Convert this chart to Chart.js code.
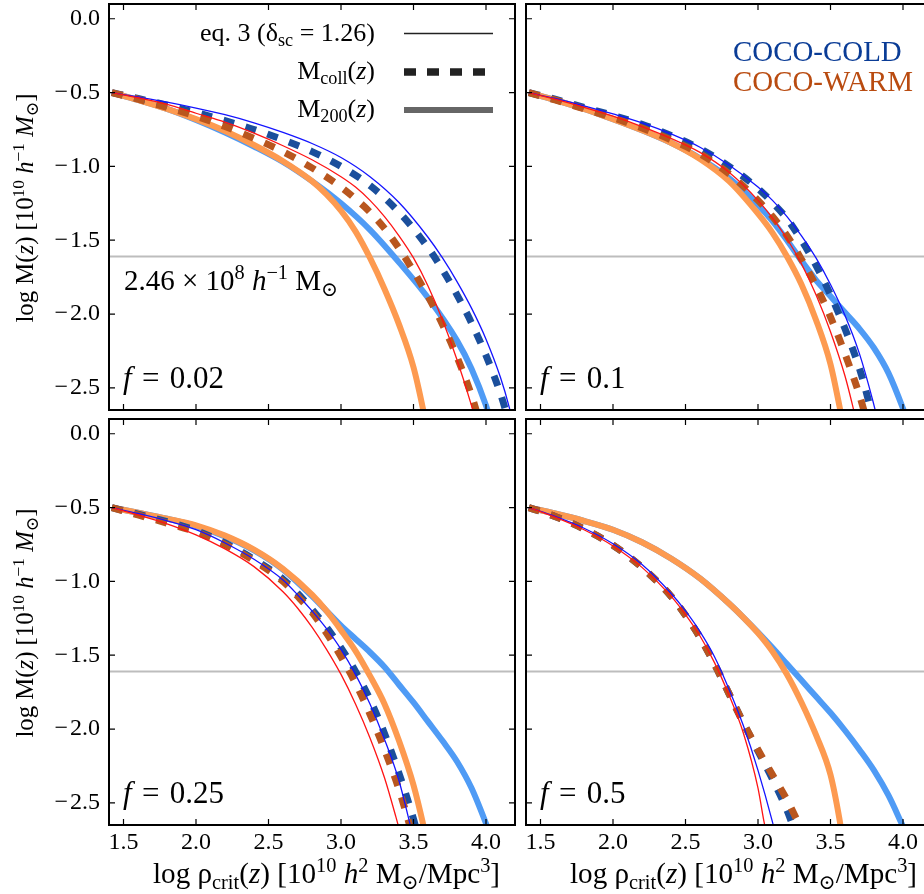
<!DOCTYPE html>
<html>
<head>
<meta charset="utf-8">
<script src="https://cdn.jsdelivr.net/npm/chart.js@4.4.1/dist/chart.umd.min.js"></script>
<style>
  html, body { margin: 0; padding: 0; background: #fff; }
  body { width: 924px; height: 894px; overflow: hidden; position: relative; }
  canvas { position: absolute; }
</style>
</head>
<body>
<canvas id="c0"></canvas>
<canvas id="c1"></canvas>
<canvas id="c2"></canvas>
<canvas id="c3"></canvas>
<script>
// axes
const xTicks = [1.5, 2.0, 2.5, 3.0, 3.5, 4.0];
const yTicks = [0.0, -0.5, -1.0, -1.5, -2.0, -2.5];
const xRange = [1.4, 4.2];
const yRange = [-2.65, 0.1];
const massLimit = -1.61; // log(2.46e8 / 1e10)

// f = 0.02
const f002_eq3Cold = [[1.42,-0.50],[1.6,-0.53],[1.8,-0.565],[2.0,-0.605],[2.2,-0.65],[2.4,-0.705],[2.6,-0.77],[2.8,-0.845],[3.0,-0.94],[3.2,-1.07],[3.4,-1.245],[3.6,-1.48],[3.7,-1.62],[3.8,-1.78],[3.9,-1.96],[4.0,-2.17],[4.1,-2.43],[4.16,-2.63],[4.2,-2.8]];
const f002_eq3Warm = [[1.42,-0.50],[1.6,-0.535],[1.8,-0.58],[2.0,-0.64],[2.2,-0.70],[2.4,-0.775],[2.6,-0.86],[2.8,-0.955],[3.0,-1.07],[3.1,-1.14],[3.2,-1.23],[3.3,-1.34],[3.4,-1.47],[3.5,-1.62],[3.6,-1.81],[3.7,-2.04],[3.8,-2.31],[3.9,-2.62],[3.95,-2.8]];
const f002_collCold = [[1.42,-0.50],[1.6,-0.54],[1.8,-0.585],[2.0,-0.635],[2.2,-0.69],[2.4,-0.75],[2.6,-0.82],[2.8,-0.90],[3.0,-1.00],[3.2,-1.13],[3.4,-1.31],[3.6,-1.55],[3.7,-1.70],[3.8,-1.87],[3.9,-2.06],[4.0,-2.28],[4.1,-2.54],[4.15,-2.70]];
const f002_collWarm = [[1.42,-0.50],[1.6,-0.545],[1.8,-0.60],[2.0,-0.66],[2.2,-0.73],[2.4,-0.81],[2.6,-0.90],[2.8,-1.01],[3.0,-1.14],[3.1,-1.22],[3.2,-1.31],[3.3,-1.42],[3.4,-1.555],[3.5,-1.71],[3.6,-1.88],[3.7,-2.07],[3.8,-2.29],[3.9,-2.55],[3.95,-2.71]];
const f002_m200Cold = [[1.42,-0.50],[1.6,-0.55],[1.8,-0.61],[2.0,-0.685],[2.2,-0.77],[2.4,-0.865],[2.6,-0.97],[2.8,-1.10],[3.0,-1.25],[3.2,-1.43],[3.4,-1.65],[3.6,-1.89],[3.8,-2.18],[3.9,-2.37],[4.0,-2.62],[4.05,-2.78]];
const f002_m200Warm = [[1.42,-0.50],[1.6,-0.55],[1.8,-0.61],[2.0,-0.68],[2.2,-0.76],[2.4,-0.855],[2.6,-0.965],[2.8,-1.10],[2.9,-1.19],[3.0,-1.30],[3.1,-1.44],[3.2,-1.62],[3.3,-1.83],[3.4,-2.07],[3.5,-2.36],[3.565,-2.64],[3.6,-2.82]];

// f = 0.1
const f01_eq3Cold = [[1.42,-0.50],[1.6,-0.54],[1.8,-0.59],[2.0,-0.645],[2.2,-0.705],[2.4,-0.78],[2.6,-0.87],[2.8,-0.99],[3.0,-1.14],[3.1,-1.23],[3.2,-1.34],[3.3,-1.47],[3.4,-1.62],[3.5,-1.80],[3.6,-2.01],[3.7,-2.27],[3.79,-2.58],[3.85,-2.82]];
const f01_eq3Warm = [[1.42,-0.50],[1.6,-0.545],[1.8,-0.60],[2.0,-0.66],[2.2,-0.73],[2.4,-0.81],[2.6,-0.905],[2.8,-1.04],[3.0,-1.23],[3.1,-1.35],[3.2,-1.49],[3.3,-1.66],[3.4,-1.87],[3.5,-2.12],[3.6,-2.42],[3.65,-2.61],[3.7,-2.82]];
const f01_collCold = [[1.42,-0.50],[1.6,-0.545],[1.8,-0.60],[2.0,-0.655],[2.2,-0.715],[2.4,-0.79],[2.6,-0.88],[2.8,-1.00],[3.0,-1.15],[3.1,-1.245],[3.2,-1.355],[3.3,-1.50],[3.4,-1.67],[3.5,-1.87],[3.6,-2.10],[3.7,-2.37],[3.76,-2.58],[3.8,-2.74]];
const f01_collWarm = [[1.42,-0.50],[1.6,-0.55],[1.8,-0.61],[2.0,-0.67],[2.2,-0.74],[2.4,-0.82],[2.6,-0.915],[2.8,-1.05],[3.0,-1.23],[3.1,-1.34],[3.2,-1.47],[3.3,-1.63],[3.4,-1.81],[3.5,-2.02],[3.6,-2.27],[3.7,-2.55],[3.75,-2.72]];
const f01_m200Cold = [[1.42,-0.50],[1.6,-0.55],[1.8,-0.61],[2.0,-0.68],[2.2,-0.755],[2.4,-0.84],[2.6,-0.945],[2.8,-1.08],[3.0,-1.26],[3.1,-1.37],[3.2,-1.50],[3.3,-1.64],[3.4,-1.77],[3.5,-1.88],[3.6,-1.99],[3.7,-2.10],[3.8,-2.23],[3.9,-2.40],[4.0,-2.64],[4.05,-2.78]];
const f01_m200Warm = [[1.42,-0.50],[1.6,-0.55],[1.8,-0.61],[2.0,-0.68],[2.2,-0.755],[2.4,-0.84],[2.6,-0.95],[2.8,-1.10],[3.0,-1.32],[3.1,-1.45],[3.2,-1.61],[3.3,-1.80],[3.4,-2.04],[3.5,-2.34],[3.565,-2.64],[3.6,-2.82]];

// f = 0.25
const f025_eq3Cold = [[1.42,-0.50],[1.6,-0.54],[1.8,-0.59],[2.0,-0.65],[2.2,-0.74],[2.4,-0.85],[2.6,-0.99],[2.7,-1.09],[2.8,-1.20],[2.9,-1.32],[3.0,-1.46],[3.1,-1.63],[3.2,-1.83],[3.3,-2.07],[3.4,-2.35],[3.47,-2.62],[3.52,-2.82]];
const f025_eq3Warm = [[1.42,-0.50],[1.6,-0.55],[1.8,-0.61],[2.0,-0.685],[2.2,-0.78],[2.4,-0.90],[2.6,-1.07],[2.7,-1.18],[2.8,-1.31],[2.9,-1.46],[3.0,-1.63],[3.1,-1.83],[3.2,-2.06],[3.3,-2.33],[3.38,-2.60],[3.43,-2.78]];
const f025_collCold = [[1.42,-0.50],[1.6,-0.545],[1.8,-0.595],[2.0,-0.655],[2.2,-0.74],[2.4,-0.85],[2.6,-0.985],[2.7,-1.08],[2.8,-1.19],[2.9,-1.31],[3.0,-1.45],[3.1,-1.61],[3.2,-1.80],[3.3,-2.03],[3.4,-2.30],[3.5,-2.61],[3.54,-2.76]];
const f025_collWarm = [[1.42,-0.50],[1.6,-0.55],[1.8,-0.605],[2.0,-0.665],[2.2,-0.75],[2.4,-0.86],[2.6,-1.00],[2.7,-1.10],[2.8,-1.21],[2.9,-1.35],[3.0,-1.51],[3.1,-1.69],[3.2,-1.90],[3.3,-2.14],[3.4,-2.41],[3.47,-2.64],[3.52,-2.82]];
const f025_m200Cold = [[1.42,-0.50],[1.6,-0.535],[1.8,-0.575],[2.0,-0.625],[2.2,-0.695],[2.4,-0.79],[2.6,-0.92],[2.8,-1.10],[2.9,-1.20],[3.0,-1.30],[3.1,-1.39],[3.2,-1.48],[3.3,-1.58],[3.4,-1.70],[3.5,-1.82],[3.6,-1.95],[3.7,-2.08],[3.8,-2.22],[3.9,-2.40],[4.0,-2.64],[4.03,-2.72]];
const f025_m200Warm = [[1.42,-0.50],[1.6,-0.535],[1.8,-0.575],[2.0,-0.62],[2.2,-0.69],[2.4,-0.785],[2.6,-0.915],[2.8,-1.09],[2.9,-1.20],[3.0,-1.33],[3.1,-1.47],[3.2,-1.64],[3.3,-1.83],[3.4,-2.08],[3.5,-2.38],[3.57,-2.66],[3.6,-2.8]];

// f = 0.5
const f05_eq3Cold = [[1.42,-0.50],[1.6,-0.56],[1.8,-0.64],[2.0,-0.745],[2.2,-0.885],[2.4,-1.08],[2.5,-1.20],[2.6,-1.34],[2.7,-1.51],[2.8,-1.73],[2.9,-1.98],[3.0,-2.28],[3.1,-2.63],[3.13,-2.75]];
const f05_eq3Warm = [[1.42,-0.50],[1.6,-0.565],[1.8,-0.65],[2.0,-0.76],[2.2,-0.905],[2.4,-1.10],[2.5,-1.225],[2.6,-1.37],[2.7,-1.55],[2.8,-1.77],[2.9,-2.03],[3.0,-2.40],[3.04,-2.62],[3.08,-2.8]];
const f05_collCold = [[1.42,-0.50],[1.6,-0.56],[1.8,-0.645],[2.0,-0.755],[2.2,-0.905],[2.4,-1.10],[2.5,-1.23],[2.6,-1.38],[2.7,-1.56],[2.8,-1.76],[2.9,-1.96],[3.0,-2.15],[3.1,-2.34],[3.2,-2.55],[3.25,-2.68]];
const f05_collWarm = [[1.42,-0.50],[1.6,-0.56],[1.8,-0.645],[2.0,-0.755],[2.2,-0.905],[2.4,-1.10],[2.5,-1.23],[2.6,-1.38],[2.7,-1.56],[2.8,-1.76],[2.9,-1.96],[3.0,-2.14],[3.1,-2.31],[3.2,-2.48],[3.3,-2.68]];
const f05_m200Cold = [[1.42,-0.50],[1.6,-0.54],[1.8,-0.59],[2.0,-0.65],[2.2,-0.735],[2.4,-0.845],[2.6,-0.98],[2.8,-1.15],[2.9,-1.245],[3.0,-1.345],[3.1,-1.45],[3.2,-1.56],[3.3,-1.67],[3.4,-1.78],[3.5,-1.89],[3.6,-2.01],[3.7,-2.14],[3.8,-2.28],[3.9,-2.45],[4.0,-2.66]];
const f05_m200Warm = [[1.42,-0.50],[1.6,-0.54],[1.8,-0.59],[2.0,-0.65],[2.2,-0.735],[2.4,-0.845],[2.6,-0.98],[2.8,-1.15],[2.9,-1.245],[3.0,-1.35],[3.1,-1.475],[3.2,-1.63],[3.3,-1.82],[3.4,-2.04],[3.5,-2.31],[3.56,-2.60],[3.6,-2.85]];

const SERIF = '"Liberation Serif", "DejaVu Serif", serif';
const SIDE = 406;
Chart.defaults.font.family = SERIF;
Chart.defaults.font.size = 24;
Chart.defaults.color = '#000';

// rich text: t = text, i = italic, s = 1 superscript / -1 subscript
const yTitle = [{t:'log M('},{t:'z',i:1},{t:') [10'},{t:'10',s:1},{t:' '},{t:'h',i:1},{t:'\u22121',s:1},{t:' '},{t:'M',i:1},{t:'\u2299',s:-1},{t:']'}];
const xTitle = [{t:'log \u03c1'},{t:'crit',s:-1},{t:'('},{t:'z',i:1},{t:') [10'},{t:'10',s:1},{t:' '},{t:'h',i:1},{t:'2',s:1},{t:' M'},{t:'\u2299',s:-1},{t:'/Mpc'},{t:'3',s:1},{t:']'}];
const legEq3 = [{t:'eq. 3 (\u03b4'},{t:'sc',s:-1},{t:' = 1.26)'}];
const legColl = [{t:'M'},{t:'coll',s:-1},{t:'('},{t:'z',i:1},{t:')'}];
const leg200 = [{t:'M'},{t:'200',s:-1},{t:'('},{t:'z',i:1},{t:')'}];
const massNote = [{t:'2.46 \u00d7 10'},{t:'8',s:1},{t:' '},{t:'h',i:1},{t:'\u22121',s:1},{t:' M'},{t:'\u2299',s:-1}];

function partFont(p, size) {
  const s = p.s ? size * 0.7 : size;
  return (p.i ? 'italic ' : '') + s.toFixed(2) + 'px ' + SERIF;
}
function richWidth(ctx, parts, size) {
  let w = 0;
  parts.forEach(p => { ctx.font = partFont(p, size); w += ctx.measureText(p.t).width; });
  return w;
}
function drawRich(ctx, parts, x, y, size, align) {
  const w = richWidth(ctx, parts, size);
  let cx = align === 'right' ? x - w : align === 'center' ? x - w / 2 : x;
  ctx.textAlign = 'left';
  ctx.textBaseline = 'alphabetic';
  parts.forEach(p => {
    ctx.font = partFont(p, size);
    const dy = p.s === 1 ? -0.38 * size : p.s === -1 ? 0.2 * size : 0;
    ctx.fillText(p.t, cx, y + dy);
    cx += ctx.measureText(p.t).width;
  });
}
function fitSize(ctx, parts, target) {
  return 24 * target / richWidth(ctx, parts, 24);
}

const panelDeco = {
  id: 'panelDeco',
  afterDatasetsDraw(chart, args, o) {
    const {ctx, chartArea: a, scales: {x, y}} = chart;
    ctx.save();
    // inward ticks on all four sides
    ctx.strokeStyle = '#000';
    ctx.lineWidth = 1.2;
    ctx.beginPath();
    xTicks.forEach(v => {
      const px = x.getPixelForValue(v);
      ctx.moveTo(px, a.bottom); ctx.lineTo(px, a.bottom - 6);
      ctx.moveTo(px, a.top); ctx.lineTo(px, a.top + 6);
    });
    yTicks.forEach(v => {
      const py = y.getPixelForValue(v);
      ctx.moveTo(a.left, py); ctx.lineTo(a.left + 6, py);
      ctx.moveTo(a.right, py); ctx.lineTo(a.right - 6, py);
    });
    ctx.stroke();
    ctx.lineWidth = 2;
    ctx.strokeRect(a.left, a.top, a.width, a.height);

    ctx.fillStyle = '#000';
    drawRich(ctx, [{t:'f',i:1},{t:'\u2004=\u2004' + o.f}], a.left + 14, a.bottom - 22, 31, 'left');

    if (o.yTitle) {
      ctx.save();
      ctx.translate(a.left - 76, (a.top + a.bottom) / 2 + 1);
      ctx.rotate(-Math.PI / 2);
      drawRich(ctx, yTitle, 0, 0, fitSize(ctx, yTitle, 229), 'center');
      ctx.restore();
    }
    if (o.xTitle) {
      drawRich(ctx, xTitle, a.left + 44, a.bottom + 58, fitSize(ctx, xTitle, 347), 'left');
    }
    if (o.legend) {
      const tx = a.left + 266, lx0 = a.left + 295, lx1 = a.left + 384;
      drawRich(ctx, legEq3, tx, a.top + 37, 26, 'right');
      drawRich(ctx, legColl, tx, a.top + 75, 26, 'right');
      drawRich(ctx, leg200, tx, a.top + 113, 26, 'right');
      ctx.lineCap = 'butt';
      ctx.strokeStyle = '#222'; ctx.lineWidth = 1.5;
      ctx.beginPath(); ctx.moveTo(lx0, a.top + 29.5); ctx.lineTo(lx1, a.top + 29.5); ctx.stroke();
      ctx.lineWidth = 7.5; ctx.setLineDash([12, 11]);
      ctx.beginPath(); ctx.moveTo(lx0, a.top + 68); ctx.lineTo(lx1, a.top + 68); ctx.stroke();
      ctx.setLineDash([]);
      ctx.strokeStyle = '#666'; ctx.lineWidth = 6;
      ctx.beginPath(); ctx.moveTo(lx0, a.top + 106); ctx.lineTo(lx1, a.top + 106); ctx.stroke();
      drawRich(ctx, massNote, a.left + 15, a.top + 286, fitSize(ctx, massNote, 214), 'left');
    }
    if (o.coco) {
      const s = fitSize(ctx, [{t:'COCO-WARM'}], 180);
      ctx.fillStyle = '#0a3c96';
      drawRich(ctx, [{t:'COCO-COLD'}], a.left + 207, a.top + 57, s, 'left');
      ctx.fillStyle = '#b94b10';
      drawRich(ctx, [{t:'COCO-WARM'}], a.left + 207, a.top + 87, s, 'left');
    }
    ctx.restore();
  }
};

function line(points, color, width, dash) {
  return {
    data: points.map(p => ({x: p[0], y: p[1]})),
    borderColor: color,
    borderWidth: width,
    borderDash: dash || [],
    borderCapStyle: 'butt',
    pointRadius: 0,
    cubicInterpolationMode: 'monotone',
    fill: false,
    clip: 0
  };
}
const fmt = v => v.toFixed(1).replace('-', '\u2212\u200a');

function buildPanel(id, cfg) {
  const cv = document.getElementById(id);
  const axisW = cfg.yLabels ? cfg.left : 0;
  const padL = cfg.yLabels ? 0 : 10;
  const padT = 26, padR = 8;
  const axisH = cfg.xLabels ? 45 : 0;
  const padB = cfg.xLabels ? 30 : 24;
  cv.width = padL + axisW + SIDE + padR;
  cv.height = padT + SIDE + axisH + padB;
  cv.style.left = (cfg.left - axisW - padL) + 'px';
  cv.style.top = (cfg.top - padT) + 'px';

  // first dataset is drawn on top
  const datasets = [
    line(cfg.eq3Warm, '#ff1414', 1.3),
    line(cfg.eq3Cold, '#1414ff', 1.3),
    line(cfg.collWarm, '#b9561e', 7, [11, 12]),
    line(cfg.collCold, '#1b4f9c', 7, [11, 12]),
    line(cfg.m200Warm, '#fd9a50', 6),
    line(cfg.m200Cold, '#4f9bf5', 6),
    line([[xRange[0], massLimit], [xRange[1], massLimit]], '#bdbdbd', 2)
  ];

  const tickFont = {family: SERIF, size: 24};
  new Chart(cv, {
    type: 'line',
    data: {datasets},
    plugins: [panelDeco],
    options: {
      responsive: false,
      animation: false,
      layout: {padding: {left: padL, top: padT, right: padR, bottom: padB}},
      plugins: {legend: {display: false}, tooltip: {enabled: false}, panelDeco: cfg},
      scales: {
        x: {
          type: 'linear', min: xRange[0], max: xRange[1],
          afterBuildTicks: s => { s.ticks = xTicks.map(v => ({value: v})); },
          afterFit: s => { s.height = axisH; },
          grid: {display: false, drawTicks: false},
          border: {display: false},
          ticks: {display: cfg.xLabels, padding: 3, color: '#000', maxRotation: 0, autoSkip: false,
                  font: tickFont, callback: v => fmt(v)}
        },
        y: {
          type: 'linear', min: yRange[0], max: yRange[1],
          afterBuildTicks: s => { s.ticks = yTicks.map(v => ({value: v})); },
          afterFit: s => { s.width = axisW; },
          grid: {display: false, drawTicks: false},
          border: {display: false},
          ticks: {display: cfg.yLabels, padding: 9, color: '#000', autoSkip: false,
                  font: tickFont, callback: v => fmt(v)}
        }
      }
    }
  });
}

buildPanel('c0', {f: '0.02', left: 109, top: 4, yLabels: true, xLabels: false, yTitle: true, legend: true,
  eq3Cold: f002_eq3Cold, eq3Warm: f002_eq3Warm, collCold: f002_collCold, collWarm: f002_collWarm, m200Cold: f002_m200Cold, m200Warm: f002_m200Warm});
buildPanel('c1', {f: '0.1', left: 526, top: 4, yLabels: false, xLabels: false, coco: true,
  eq3Cold: f01_eq3Cold, eq3Warm: f01_eq3Warm, collCold: f01_collCold, collWarm: f01_collWarm, m200Cold: f01_m200Cold, m200Warm: f01_m200Warm});
buildPanel('c2', {f: '0.25', left: 109, top: 419, yLabels: true, xLabels: true, yTitle: true, xTitle: true,
  eq3Cold: f025_eq3Cold, eq3Warm: f025_eq3Warm, collCold: f025_collCold, collWarm: f025_collWarm, m200Cold: f025_m200Cold, m200Warm: f025_m200Warm});
buildPanel('c3', {f: '0.5', left: 526, top: 419, yLabels: false, xLabels: true, xTitle: true,
  eq3Cold: f05_eq3Cold, eq3Warm: f05_eq3Warm, collCold: f05_collCold, collWarm: f05_collWarm, m200Cold: f05_m200Cold, m200Warm: f05_m200Warm});
</script>
</body>
</html>
